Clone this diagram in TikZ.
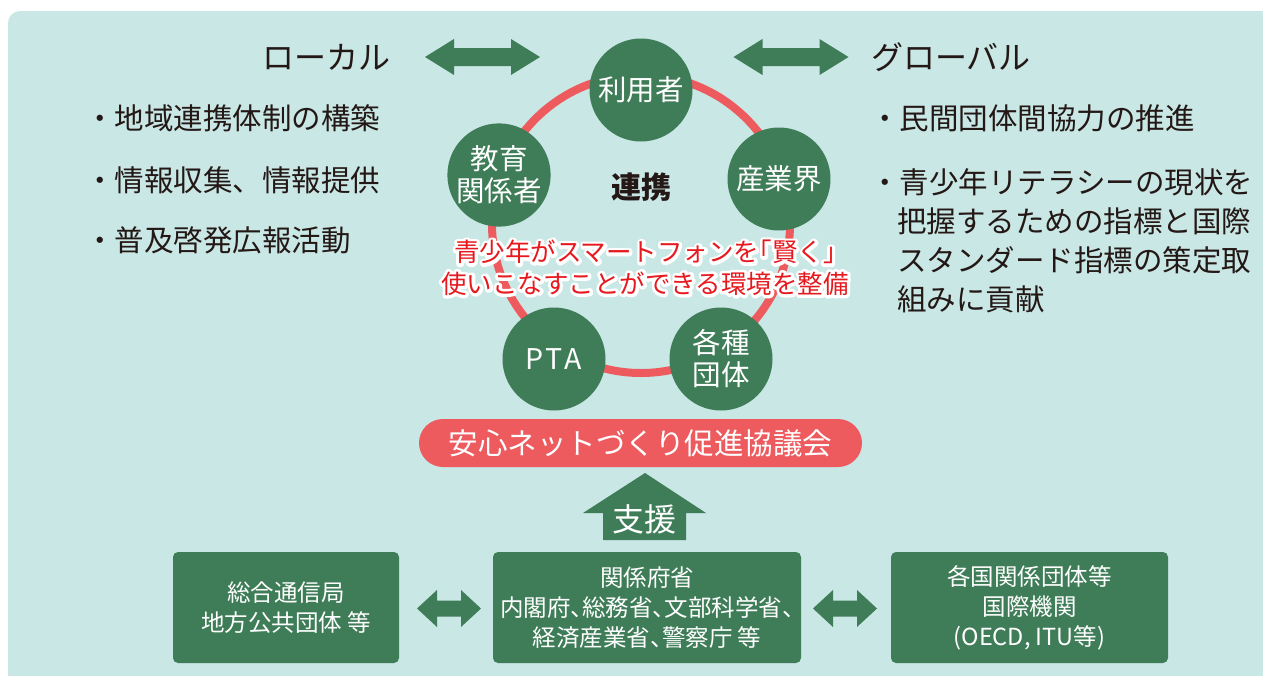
\documentclass[tikz,border=0pt]{standalone}
\usepackage{fontspec}
\setmainfont{Noto Sans CJK JP}
\usetikzlibrary{calc}
\definecolor{bgc}{HTML}{C9E7E5}
\definecolor{grn}{HTML}{3F7D58}
\definecolor{ringc}{HTML}{EE5B5F}
\definecolor{redtxt}{HTML}{E6191E}
\definecolor{ink}{HTML}{231815}
\newcommand\myhalo[1]{\rlap{\special{pdf:literal direct 1 Tr 6 w 1 j}\textcolor{white}{#1}\special{pdf:literal direct 0 Tr 0.4 w 0 j}}\textcolor{redtxt}{#1}}
\newcommand\hcm{\makebox[0.5em][l]{、}}
\newcommand\lbrk{\makebox[0.5em][r]{「}}
\newcommand\rbrk{\makebox[0.5em][l]{」}}
\newcommand\dblarr[5]{\fill[grn,shift={#1}] (-#2,0) -- ({-#2+#3},{-#4}) -- ({-#2+#3},{-#5}) -- ({#2-#3},{-#5}) -- ({#2-#3},{-#4}) -- (#2,0) -- ({#2-#3},#4) -- ({#2-#3},#5) -- ({-#2+#3},#5) -- ({-#2+#3},#4) -- cycle;}
\tikzset{
 circ/.style={circle, fill=grn, minimum size=103pt, inner sep=0pt, text=white, align=center, font=\fontsize{28.5}{32}\selectfont},
 ttl/.style={text=ink, inner sep=0pt, font=\fontsize{32}{38}\selectfont},
 bul/.style={text=ink, inner sep=0pt, anchor=west, font=\fontsize{29.5}{36}\selectfont},
 gbox/.style={rectangle, fill=grn, rounded corners=5pt, text=white, align=center, inner sep=0pt, minimum height=111pt, font=\fontsize{23.5}{30}\selectfont},
 pillbox/.style={rectangle, rounded corners=24pt, fill=ringc, text=white, minimum width=443pt, minimum height=48pt, inner sep=0pt, font=\fontsize{29.5}{34}\selectfont},
}
\begin{document}
\begin{tikzpicture}[x=1pt,y=-1pt]
\useasboundingbox (0,0) rectangle (1263,675);
\fill[bgc, rounded corners=12pt] (8,11) rectangle (1290,700);

% titles
\node[ttl] (loc) at (326,57) {ローカル};
\node[ttl] (glo) at (951,57) {グローバル};
\dblarr{(482.5,57)}{57.5}{29}{18}{9}
\dblarr{(791,57)}{57.5}{29}{18}{9}

% left bullets
\node[bul] (l1) at (85,118) {・地域連携体制の構築};
\node[bul] (l2) at (85,180) {・情報収集、情報提供};
\node[bul] (l3) at (85,240) {・普及啓発広報活動};

% right bullets
\node[bul] (r1) at (870,118) {・民間団体間協力の推進};
\node[bul] (r2) at (870,182) {・青少年リテラシーの現状を};
\node[bul] (r3) at (897,221) {把握するための指標と国際};
\node[bul] (r4) at (897,260) {スタンダード指標の策定取};
\node[bul] (r5) at (897,299) {組みに貢献};

% ring
\coordinate (rc) at (641,224);
\draw[ringc, line width=8pt] (rc) circle[radius=149pt];

\node[circ] (user) at (641,90) {利用者};
\node[circ] (edu) at (499,175) {教育\\関係者};
\node[circ] (ind) at (779,179) {産業界};
\node[circ] (pta) at (554,359) {P\hspace{2pt}T\hspace{2pt}A};
\node[circ] (org) at (721,359) {各種\\団体};

\node[text=ink, inner sep=0pt, font=\fontsize{30}{34}\selectfont\bfseries] (renkei) at (641,187) {連携};

\node[inner sep=0pt, align=center, font=\fontsize{25.5}{31.5}\selectfont] (msg) at (645,268) {\myhalo{青少年がスマートフォンを\lbrk 賢く\rbrk}\\\myhalo{使いこなすことができる環境を整備}};

\node[pillbox] (council) at (640.5,443) {安心ネットづくり促進協議会};

% bottom boxes
\node[gbox, minimum width=226pt] (b1) at (286,607.5) {総合通信局\\地方公共団体 等};
\node[gbox, minimum width=308pt] (b2) at (647,607.5) {関係府省\\内閣府\hcm 総務省\hcm 文部科学省\hcm\\経済産業省\hcm 警察庁 等};
\node[gbox, minimum width=277pt] (b3) at (1029.5,607.5) {各国関係団体等\\国際機関\\(OECD, ITU等)};

\dblarr{($(b1.east)!0.5!(b2.west)+(3,1)$)}{32}{20}{18.5}{8}
\dblarr{($(b2.east)!0.5!(b3.west)+(-1,1)$)}{32}{20}{18.5}{8}

% support arrow
\fill[grn] (645,473) -- (706,513) -- (686,513) -- (686,540) -- (603,540) -- (603,513) -- (583,513) -- cycle;
\node[text=white, inner sep=0pt, font=\fontsize{32}{36}\selectfont] (shien) at (644.5,519) {支援};
\end{tikzpicture}
\end{document}
